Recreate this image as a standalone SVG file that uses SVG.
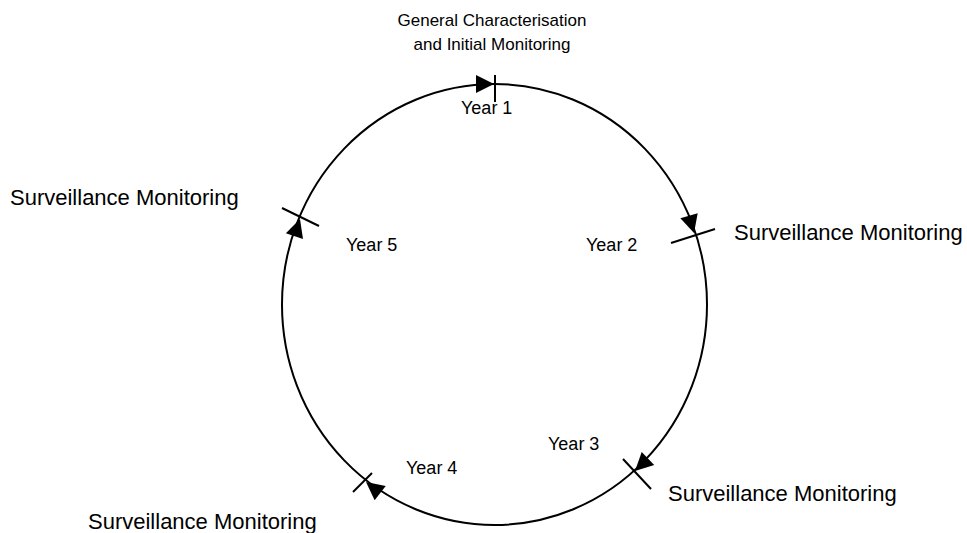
<svg xmlns="http://www.w3.org/2000/svg" xmlns:xlink="http://www.w3.org/1999/xlink" width="967" height="533" viewBox="0 0 967 533">
<style>
text{font-family:"Liberation Sans",Arial,sans-serif;font-size:17px;fill:#000}
.yr{font-size:18px}
.sm{font-size:22px}
.ln{fill:none;stroke:#000;stroke-width:2}
.ah{fill:#000}
</style>
<defs>
<polygon id="arr" points="0,0 -18,-9 -18,9"/>
</defs>
<rect width="967" height="533" fill="#fff"/>
<g id="connectors">
<ellipse class="ln" cx="494.5" cy="304.5" rx="212.5" ry="220.5"/>
<line class="ln" x1="495" y1="75" x2="495" y2="102"/>
<line class="ln" x1="671" y1="243" x2="715" y2="229"/>
<line class="ln" x1="623" y1="459" x2="651" y2="489"/>
<line class="ln" x1="353" y1="492" x2="372" y2="473"/>
<line class="ln" x1="282" y1="208" x2="319" y2="226"/>
<use xlink:href="#arr" class="ah" transform="translate(494,84) rotate(0)"/>
<use xlink:href="#arr" class="ah" transform="translate(694,233) rotate(74)"/>
<use xlink:href="#arr" class="ah" transform="translate(635,471) rotate(136)"/>
<use xlink:href="#arr" class="ah" transform="translate(366,482) rotate(218)"/>
<use xlink:href="#arr" class="ah" transform="translate(300,219) rotate(-72)"/>
</g>
<g id="n-top"><text x="492" y="26" text-anchor="middle">General Characterisation</text><text x="492" y="50" text-anchor="middle">and Initial Monitoring</text></g>
<g id="n-year1"><text class="yr" x="461" y="114">Year 1</text></g>
<g id="n-year2"><text class="yr" x="586" y="251">Year 2</text></g>
<g id="n-year3"><text class="yr" x="548" y="450">Year 3</text></g>
<g id="n-year4"><text class="yr" x="406" y="474">Year 4</text></g>
<g id="n-year5"><text class="yr" x="346" y="251">Year 5</text></g>
<g id="n-sm-left"><text class="sm" x="10" y="205">Surveillance Monitoring</text></g>
<g id="n-sm-right"><text class="sm" x="734" y="240">Surveillance Monitoring</text></g>
<g id="n-sm-bright"><text class="sm" x="668" y="501">Surveillance Monitoring</text></g>
<g id="n-sm-bleft"><text class="sm" x="88" y="529">Surveillance Monitoring</text></g>
</svg>
